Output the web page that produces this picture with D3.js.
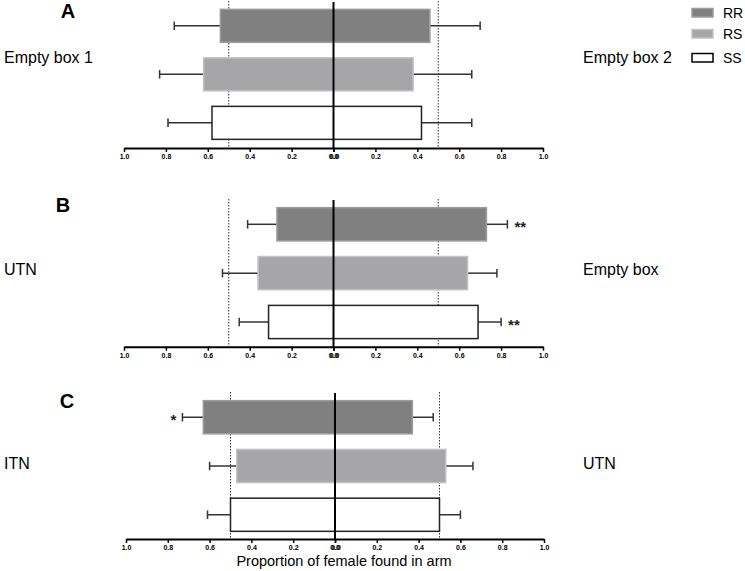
<!DOCTYPE html>
<html>
<head>
<meta charset="utf-8">
<script src="https://cdn.jsdelivr.net/npm/d3@7"></script>
<style>
  body { margin: 0; background: #fff; }
  svg { display: block; font-family: "Liberation Sans", Arial, sans-serif; }
</style>
</head>
<body>
<svg id="chart" width="745" height="571"></svg>
<script>
// ---- data ----
const genotypes = ["RR", "RS", "SS"];
const panelNames = ["A", "B", "C"];
const leftLabels = ["Empty box 1", "UTN", "ITN"];
const rightLabels = ["Empty box 2", "Empty box", "UTN"];
// proportion of females in left arm (mean) and mean+error
const leftMeanA = [0.54, 0.62, 0.58];
const leftErrA  = [0.76, 0.83, 0.79];
const rightMeanA = [0.46, 0.38, 0.42];
const rightErrA  = [0.70, 0.66, 0.66];
const leftMeanB = [0.27, 0.36, 0.31];
const leftErrB  = [0.41, 0.53, 0.45];
const rightMeanB = [0.73, 0.64, 0.69];
const rightErrB  = [0.83, 0.78, 0.80];
const leftMeanC = [0.63, 0.47, 0.50];
const leftErrC  = [0.73, 0.60, 0.61];
const rightMeanC = [0.37, 0.53, 0.50];
const rightErrC  = [0.47, 0.66, 0.60];
const sigLeftA = ["", "", ""], sigRightA = ["", "", ""];
const sigLeftB = ["", "", ""], sigRightB = ["**", "", "**"];
const sigLeftC = ["*", "", ""], sigRightC = ["", "", ""];
const tickValues = [0, 0.2, 0.4, 0.6, 0.8, 1.0];
const refLine = 0.5;
const axisTitle = "Proportion of female found in arm";

// ---- styles / layout ----
const fills = { RR: "#808080", RS: "#a6a6a9", SS: "#ffffff" };
const strokes = { RR: "#9c9c9c", RS: "#c2c2c2", SS: "#222222" };

const layout = [
  { top: 1, bandTop: 4.5, bandBot: 144.2, axisY: 148, x0: 124, x1: 543, letterX: 68, letterY: 18, labelY: 63 },
  { top: 199, bandTop: 202.8, bandBot: 343.5, axisY: 346.7, x0: 124, x1: 543, letterX: 63, letterY: 212, labelY: 275 },
  { top: 392, bandTop: 395.8, bandBot: 536.2, axisY: 539, x0: 126, x1: 544, letterX: 67, letterY: 408, labelY: 469 }
];

const panels = [
  { lm: leftMeanA, le: leftErrA, rm: rightMeanA, re: rightErrA, sl: sigLeftA, sr: sigRightA },
  { lm: leftMeanB, le: leftErrB, rm: rightMeanB, re: rightErrB, sl: sigLeftB, sr: sigRightB },
  { lm: leftMeanC, le: leftErrC, rm: rightMeanC, re: rightErrC, sl: sigLeftC, sr: sigRightC }
];

const svg = d3.select("#chart");

panels.forEach((p, i) => {
  const L = layout[i];
  const g = svg.append("g");
  const x = d3.scaleLinear().domain([-1, 1]).range([L.x0, L.x1]);
  const xc = x(0);
  const xLeft = d3.scaleLinear().domain([0, 1]).range([xc, L.x0]);
  const xRight = d3.scaleLinear().domain([0, 1]).range([xc, L.x1]);
  const y = d3.scaleBand().domain(genotypes).range([L.bandTop, L.bandBot])
    .paddingInner(0.32).paddingOuter(0.1);

  const rows = genotypes.map((gname, k) => ({
    g: gname, lm: p.lm[k], le: p.le[k], rm: p.rm[k], re: p.re[k], sl: p.sl[k], sr: p.sr[k]
  }));

  // dotted reference lines
  [-refLine, refLine].forEach(v => {
    g.append("line")
      .attr("x1", x(v)).attr("x2", x(v))
      .attr("y1", L.top).attr("y2", L.axisY)
      .attr("stroke", "#333").attr("stroke-width", 1)
      .attr("stroke-dasharray", "1.5,1.5");
  });

  // error bars
  const cy = d => y(d.g) + y.bandwidth() / 2;
  const capH = 8.5;
  rows.forEach(d => {
    g.append("line").attr("x1", xLeft(d.lm)).attr("x2", xLeft(d.le))
      .attr("y1", cy(d)).attr("y2", cy(d)).attr("stroke", "#333").attr("stroke-width", 1.5);
    g.append("line").attr("x1", xLeft(d.le)).attr("x2", xLeft(d.le))
      .attr("y1", cy(d) - capH / 2).attr("y2", cy(d) + capH / 2).attr("stroke", "#333").attr("stroke-width", 1.5);
    g.append("line").attr("x1", xRight(d.rm)).attr("x2", xRight(d.re))
      .attr("y1", cy(d)).attr("y2", cy(d)).attr("stroke", "#333").attr("stroke-width", 1.5);
    g.append("line").attr("x1", xRight(d.re)).attr("x2", xRight(d.re))
      .attr("y1", cy(d) - capH / 2).attr("y2", cy(d) + capH / 2).attr("stroke", "#333").attr("stroke-width", 1.5);
  });

  // bars
  g.selectAll("rect.bar").data(rows).join("rect")
    .attr("class", "bar")
    .attr("x", d => xLeft(d.lm))
    .attr("width", d => xRight(d.rm) - xLeft(d.lm))
    .attr("y", d => y(d.g))
    .attr("height", y.bandwidth())
    .attr("fill", d => fills[d.g])
    .attr("stroke", d => strokes[d.g])
    .attr("stroke-width", 1.5);

  // significance
  rows.forEach(d => {
    if (d.sr) g.append("text").attr("x", xRight(d.re) + 7).attr("y", cy(d) + 8)
      .attr("font-size", 15).attr("font-weight", "bold").attr("fill", "#222").text(d.sr);
    if (d.sl) g.append("text").attr("x", xLeft(d.le) - 6).attr("y", cy(d) + 7.5)
      .attr("text-anchor", "end")
      .attr("font-size", 15).attr("font-weight", "bold").attr("fill", "#222").text(d.sl);
  });

  // centre line
  g.append("line").attr("x1", xc).attr("x2", xc).attr("y1", L.top + 1).attr("y2", L.axisY)
    .attr("stroke", "#000").attr("stroke-width", 2);

  // axes
  const fmt = d3.format(".1f");
  [xLeft, xRight].forEach((sc, j) => {
    const ax = g.append("g").attr("transform", `translate(0,${L.axisY})`)
      .call(d3.axisBottom(sc).tickValues(tickValues).tickFormat(fmt).tickSize(4).tickSizeOuter(0));
    ax.select(".domain").attr("stroke", "#000").attr("stroke-width", 2);
    ax.selectAll(".tick line").attr("stroke", "#000").attr("stroke-width", 1.5);
    ax.selectAll(".tick text").attr("font-size", 7).attr("font-weight", "bold")
      .attr("font-family", "'Liberation Sans', Arial, sans-serif").attr("fill", "#000").attr("dy", "0.55em")
      .attr("dx", d => (d === 0 ? (j === 0 ? -0.5 : 0.5) : 0));
  });

  // panel letter
  svg.append("text").attr("x", L.letterX).attr("y", L.letterY).attr("text-anchor", "middle")
    .attr("font-size", 20).attr("font-weight", "bold").text(panelNames[i]);
  // arm labels
  svg.append("text").attr("x", 4).attr("y", L.labelY).attr("font-size", 16).text(leftLabels[i]);
  svg.append("text").attr("x", 583).attr("y", L.labelY).attr("font-size", 16).text(rightLabels[i]);
});

// axis title
svg.append("text").attr("x", 344).attr("y", 566).attr("text-anchor", "middle")
  .attr("font-size", 14.5).text(axisTitle);

// legend
const legY = [12.5, 33.5, 57.5];
genotypes.forEach((gname, k) => {
  svg.append("rect").attr("x", 692).attr("y", legY[k] - 4).attr("width", 21).attr("height", 8.5)
    .attr("fill", fills[gname]).attr("stroke", gname === "SS" ? "#000" : strokes[gname])
    .attr("stroke-width", 1.5);
  svg.append("text").attr("x", 723).attr("y", legY[k] + 5).attr("font-size", 14).text(gname);
});
</script>
</body>
</html>
